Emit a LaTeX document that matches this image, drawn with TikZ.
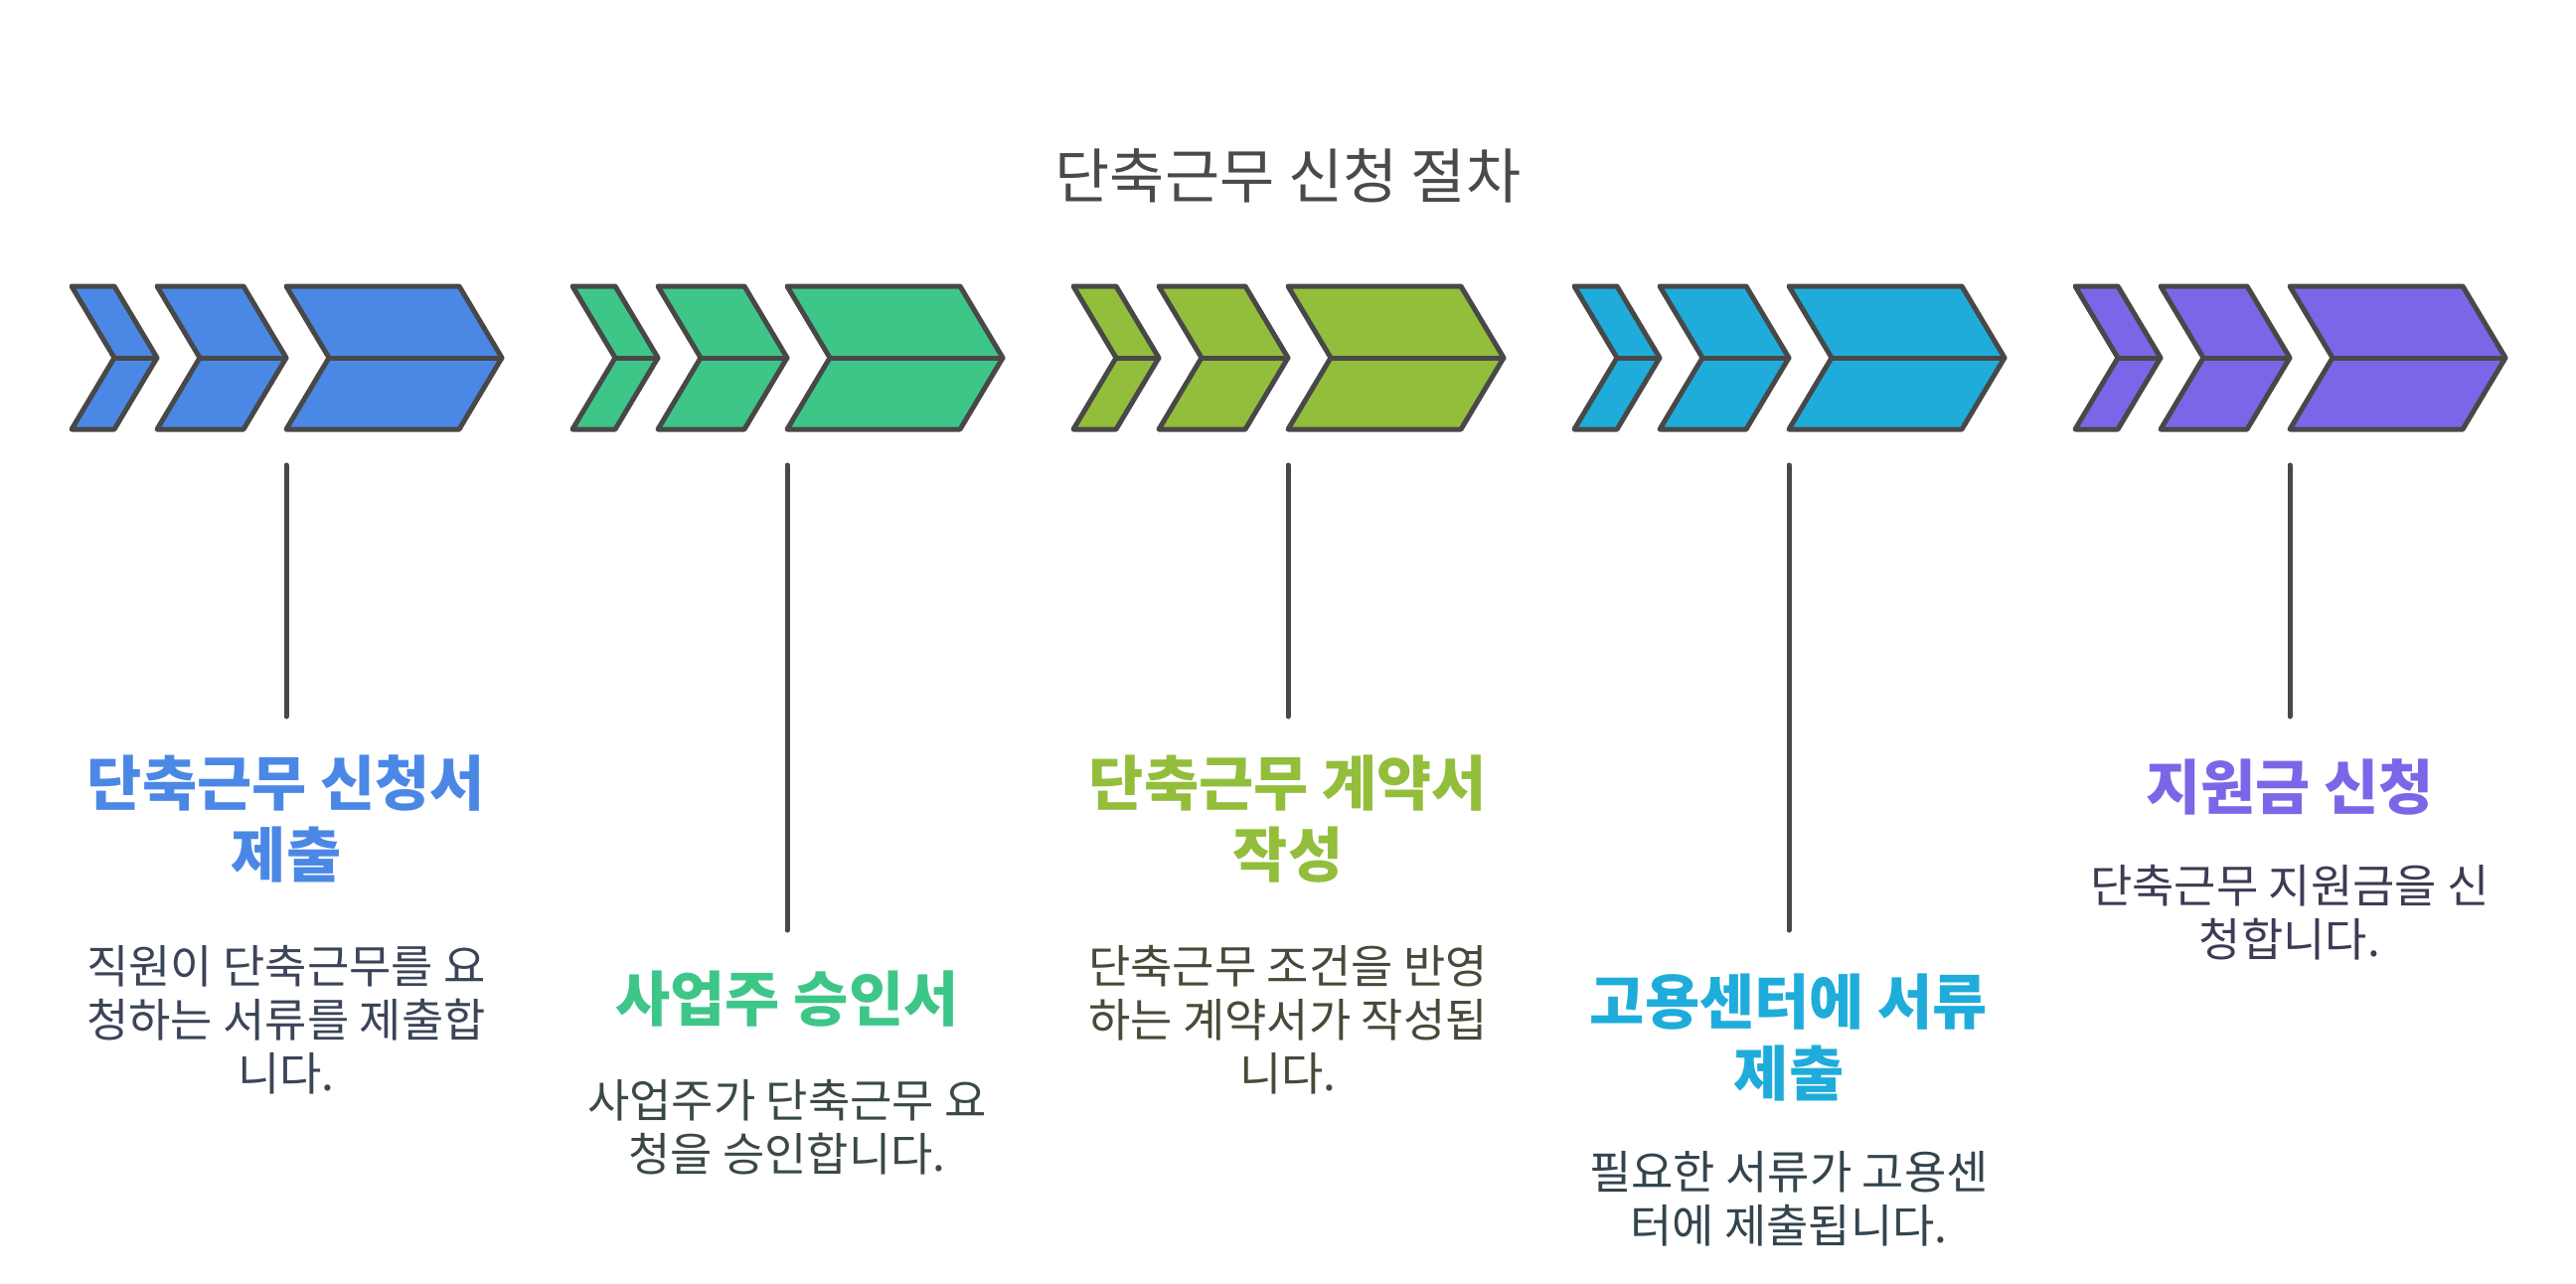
\documentclass[tikz,border=0pt]{standalone}
\usepackage{fontspec}
\setmainfont{Noto Sans CJK KR}
\definecolor{edge}{HTML}{484848}
\definecolor{titlec}{HTML}{4A4A4A}
\definecolor{cA}{HTML}{4B88E5}
\definecolor{cB}{HTML}{3EC688}
\definecolor{cC}{HTML}{93BE3B}
\definecolor{cD}{HTML}{1FACDB}
\definecolor{cE}{HTML}{7C66E8}
\definecolor{dA}{HTML}{3B4458}
\definecolor{dB}{HTML}{3A4A42}
\definecolor{dC}{HTML}{474A38}
\definecolor{dD}{HTML}{33444E}
\definecolor{dE}{HTML}{403A55}
\newcommand\chevgroup[2]{%
  \foreach \a/\w in {0/43,86/87,216/174}{%
    \draw[chev=#2] ({#1+\a},288) -- ++(\w,0) -- ++(43,72) -- ++(-43,72) -- ++(-\w,0) -- ++(43,-72) -- cycle;
    \draw[midline] ({#1+\a+43},360) -- ++(\w,0);
  }%
}
\begin{document}
\begin{tikzpicture}[x=1pt,y=-1pt,
  chev/.style={draw=edge, line width=5pt, line join=round, fill=#1},
  midline/.style={draw=edge, line width=5pt, line cap=round},
  conn/.style={draw=edge, line width=5pt, line cap=round},
  lbl/.style={font=\fontsize{60}{72}\selectfont\bfseries, align=center, anchor=north, inner sep=0pt},
  dsc/.style={font=\fontsize{46}{54}\selectfont, align=center, anchor=north, inner sep=0pt},
]
\useasboundingbox[fill=white] (0,0) rectangle (2592,1292);

\node[font=\fontsize{60}{66}\selectfont, text=titlec, anchor=north, inner sep=0pt] (title) at (1296,149) {단축근무 신청 절차};

\chevgroup{72}{cA}
\chevgroup{576}{cB}
\chevgroup{1080}{cC}
\chevgroup{1584}{cD}
\chevgroup{2088}{cE}

\coordinate (t1) at (288,468);  \coordinate (b1) at (288,721);
\coordinate (t2) at (792,468);  \coordinate (b2) at (792,936);
\coordinate (t3) at (1296,468); \coordinate (b3) at (1296,721);
\coordinate (t4) at (1800,468); \coordinate (b4) at (1800,936);
\coordinate (t5) at (2304,468); \coordinate (b5) at (2304,721);
\foreach \i in {1,...,5} \draw[conn] (t\i) -- (b\i);

\node[lbl, text=cA] (l1) at (288,760) {단축근무 신청서\\제출};
\node[dsc, text=dA] (d1) at (288,951) {직원이 단축근무를 요\\청하는 서류를 제출합\\니다.};

\node[lbl, text=cB] (l2) at (792,977) {사업주 승인서};
\node[dsc, text=dB] (d2) at (792,1086) {사업주가 단축근무 요\\청을 승인합니다.};

\node[lbl, text=cC] (l3) at (1296,760) {단축근무 계약서\\작성};
\node[dsc, text=dC] (d3) at (1296,951) {단축근무 조건을 반영\\하는 계약서가 작성됩\\니다.};

\node[lbl, text=cD] (l4) at (1800,980) {고용센터에 서류\\제출};
\node[dsc, text=dD] (d4) at (1800,1158) {필요한 서류가 고용센\\터에 제출됩니다.};

\node[lbl, text=cE] (l5) at (2304,764) {지원금 신청};
\node[dsc, text=dE] (d5) at (2304,870) {단축근무 지원금을 신\\청합니다.};
\end{tikzpicture}
\end{document}
